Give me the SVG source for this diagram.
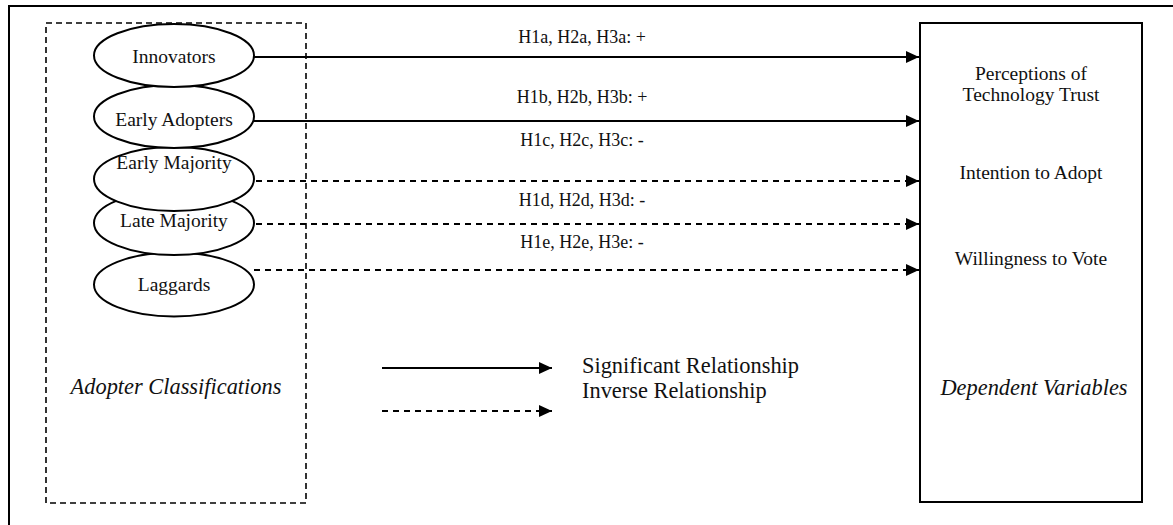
<svg xmlns="http://www.w3.org/2000/svg" width="1173" height="525" viewBox="0 0 1173 525">
  <style>
    .frame { fill: none; stroke: #000; stroke-width: 2; }
    .group { fill: none; stroke: #000; stroke-width: 1.6; stroke-dasharray: 6 4; }
    .node { fill: #fff; stroke: #000; stroke-width: 2; }
    .lbl { font-family: "Liberation Serif", "Times New Roman", serif; fill: #111; text-anchor: middle; }
    .n { font-size: 19.5px; }
    .e { font-size: 18px; }
    .big { font-size: 22.4px; }
    .it { font-style: italic; }
    .solid { stroke: #000; stroke-width: 2; fill: none; }
    .dash { stroke: #000; stroke-width: 2; fill: none; stroke-dasharray: 6 5; }
  </style>
  <defs>
    <marker id="arrow" markerWidth="14" markerHeight="12" refX="13" refY="6" orient="auto" markerUnits="userSpaceOnUse">
      <path d="M0,0 L13,6 L0,12 Z" fill="#000"/>
    </marker>
  </defs>

  <rect width="1173" height="525" fill="#fff"/>

  <!-- outer frame (runs off the right and bottom edges) -->
  <rect class="frame" x="9" y="6" width="1200" height="600"/>

  <!-- adopter classification group -->
  <g id="adopter-classifications">
    <rect class="group" x="46" y="23" width="260" height="480"/>
    <text class="lbl big it" x="176" y="394">Adopter Classifications</text>
  </g>

  <g id="laggards">
    <ellipse class="node" cx="174" cy="284.5" rx="80" ry="32"/>
    <text class="lbl n" x="174" y="291">Laggards</text>
  </g>
  <g id="late-majority">
    <ellipse class="node" cx="174" cy="223" rx="80" ry="32"/>
    <text class="lbl n" x="174" y="227">Late Majority</text>
  </g>
  <g id="early-majority">
    <ellipse class="node" cx="174" cy="179" rx="80" ry="32"/>
    <text class="lbl n" x="174" y="169">Early Majority</text>
  </g>
  <g id="early-adopters">
    <ellipse class="node" cx="174" cy="116.5" rx="80" ry="31.5"/>
    <text class="lbl n" x="174" y="126">Early Adopters</text>
  </g>
  <g id="innovators">
    <ellipse class="node" cx="174" cy="55.5" rx="80" ry="31.5"/>
    <text class="lbl n" x="174" y="63">Innovators</text>
  </g>

  <!-- dependent variables -->
  <g id="dependent-variables">
    <rect class="frame" x="920" y="23" width="222" height="479"/>
    <text class="lbl n" x="1031" y="80">Perceptions of</text>
    <text class="lbl n" x="1031" y="101">Technology Trust</text>
    <text class="lbl n" x="1031" y="179">Intention to Adopt</text>
    <text class="lbl n" x="1031" y="265">Willingness to Vote</text>
    <text class="lbl big it" x="1034" y="395">Dependent Variables</text>
  </g>

  <!-- hypothesised relationships -->
  <g id="connectors">
    <line class="solid" x1="254" y1="57" x2="919" y2="57" marker-end="url(#arrow)"/>
    <line class="solid" x1="254" y1="121" x2="919" y2="121" marker-end="url(#arrow)"/>
    <line class="dash" x1="256" y1="181" x2="919" y2="181" marker-end="url(#arrow)"/>
    <line class="dash" x1="256" y1="224" x2="919" y2="224" marker-end="url(#arrow)"/>
    <line class="dash" x1="254" y1="270" x2="919" y2="270" marker-end="url(#arrow)"/>
    <text class="lbl e" x="582" y="43">H1a, H2a, H3a: +</text>
    <text class="lbl e" x="582" y="103">H1b, H2b, H3b: +</text>
    <text class="lbl e" x="582" y="146">H1c, H2c, H3c: -</text>
    <text class="lbl e" x="582" y="206">H1d, H2d, H3d: -</text>
    <text class="lbl e" x="582" y="248">H1e, H2e, H3e: -</text>
  </g>

  <!-- legend -->
  <g id="legend">
    <line class="solid" x1="382" y1="368" x2="552" y2="368" marker-end="url(#arrow)"/>
    <line class="dash" x1="382" y1="411" x2="552" y2="411" marker-end="url(#arrow)"/>
    <text class="lbl big" x="582" y="373" style="text-anchor:start">Significant Relationship</text>
    <text class="lbl big" x="582" y="398" style="text-anchor:start">Inverse Relationship</text>
  </g>
</svg>
